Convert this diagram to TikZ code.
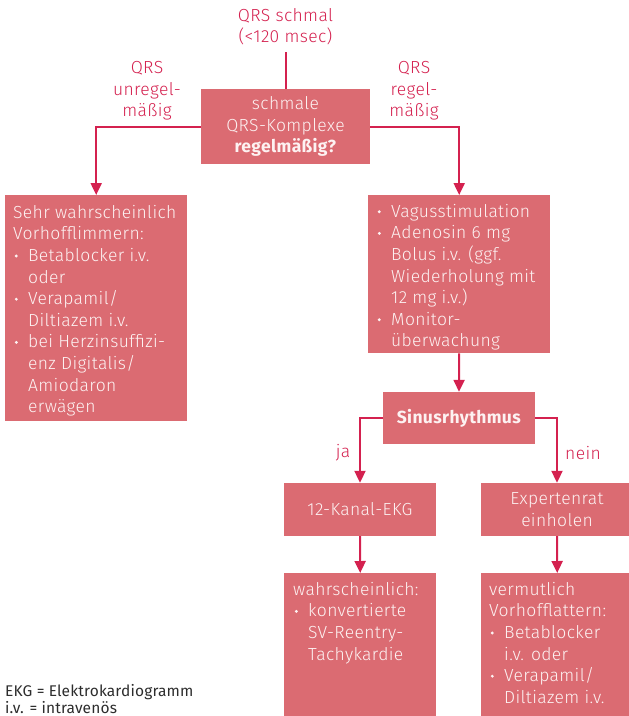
\documentclass[tikz,border=0pt]{standalone}
\usepackage{fontspec}
\setmainfont{Fira Sans}[UprightFont={* Light}, BoldFont={* Bold}, LetterSpace=2]
\newfontfamily\notefont{Fira Sans}[LetterSpace=1]
\usetikzlibrary{arrows.meta,calc}

\definecolor{boxfill}{RGB}{219,107,114}
\definecolor{linkred}{RGB}{212,33,79}
\definecolor{boxtext}{RGB}{253,242,242}
\definecolor{notegray}{RGB}{45,45,45}

% bullet and hanging indent for list lines
\newcommand{\itembul}{\makebox[15pt][l]{\hspace{1.5pt}\tikz[baseline=0pt]\fill (1.6pt,5.6pt) circle (1.6pt);}}
\newcommand{\itemind}{\hspace*{15pt}}

\tikzset{
  basefont/.style={font=\fontsize{17.5}{21.6}\selectfont},
  box/.style={fill=boxfill, draw=none, inner sep=0pt, text=boxtext, basefont, align=center},
  listtext/.style={text=boxtext, basefont, align=left, inner sep=0pt, anchor=north west},
  lbl/.style={text=linkred, basefont, align=center, inner sep=0pt},
  plainlink/.style={draw=linkred, line width=2pt},
  link/.style={plainlink, -{Triangle[length=12pt,width=11pt]}},
}

\begin{document}
\begin{tikzpicture}[x=1pt,y=-1pt]
  \useasboundingbox (0,0) rectangle (629,716);
  \clip (0,0) rectangle (629,716);

  % entry label and question box
  \node[lbl] (entry) at (285.5,26.5) {QRS schmal\\(<120 msec)};
  \coordinate (entryend) at (285.5,52);
  \node[box, minimum width=169pt, minimum height=75pt] (Q) at (285.5,126.5)
    {schmale\\QRS-Komplexe\\\textbf{regelmäßig?}};

  \node[lbl] (unreg) at (147,91) {QRS\\unregel-\\mäßig};
  \node[lbl] (reg) at (414,91) {QRS\\regel-\\mäßig};

  % irregular branch
  \node[box, anchor=north west, minimum width=182pt, minimum height=226pt] (L) at (5,195) {};
  \node[listtext] (Lt) at ($(L.north west)+(8,10)$) {Sehr wahrscheinlich\\
    Vorhofflimmern:\\
    \itembul Betablocker i.v.\\
    \itemind oder\\
    \itembul Verapamil/\\
    \itemind Diltiazem i.v.\\
    \itembul bei Herzinsuffizi-\\
    \itemind enz Digitalis/\\
    \itemind Amiodaron\\
    \itemind erwägen};

  % regular branch
  \node[box, anchor=north west, minimum width=182pt, minimum height=158pt] (R) at (368,195) {};
  \node[listtext] (Rt) at ($(R.north west)+(8,9)$) {\itembul Vagusstimulation\\
    \itembul Adenosin 6 mg\\
    \itemind Bolus i.v. (ggf.\\
    \itemind Wiederholung mit\\
    \itemind 12 mg i.v.)\\
    \itembul Monitor-\\
    \itemind überwachung};

  \node[box, minimum width=152pt, minimum height=52pt] (S) at (459,418) {\textbf{Sinusrhythmus}};

  \node[box, minimum width=152pt, minimum height=53pt] (K) at (360,509.5) {12-Kanal-EKG};
  \node[box, minimum width=152pt, minimum height=53pt] (E) at (557,509.5) {Expertenrat\\einholen};

  \node[box, anchor=north west, minimum width=152pt, minimum height=150pt] (W) at (284,573) {};
  \node[listtext] (Wt) at ($(W.north west)+(9,9)$) {wahrscheinlich:\\
    \itembul konvertierte\\
    \itemind SV-Reentry-\\
    \itemind Tachykardie};

  \node[box, anchor=north west, minimum width=152pt, minimum height=150pt] (V) at (481,573) {};
  \node[listtext] (Vt) at ($(V.north west)+(8,9)$) {vermutlich\\
    Vorhofflattern:\\
    \itembul Betablocker\\
    \itemind i.v. oder\\
    \itembul Verapamil/\\
    \itemind Diltiazem i.v.};

  \node[lbl] (ja) at (343,453) {ja};
  \node[lbl] (nein) at (583,453) {nein};

  % connectors
  \draw[plainlink] (entryend) -- (Q.north);
  \draw[link] (Q.west) -| (L.north);
  \draw[link] (Q.east) -| (R.north);
  \draw[link] (R.south) -- (S.north);
  \draw[link] (S.west) -| (K.north);
  \draw[link] (S.east) -| (E.north);
  \draw[link] (K.south) -- (W.north);
  \draw[link] (E.south) -- (V.north);

  % abbreviations
  \node[text=notegray, font=\notefont\fontsize{15.5}{17}\selectfont, align=left, inner sep=0pt, anchor=north west] (note) at (5,684)
    {EKG = Elektrokardiogramm\\i.v. = intravenös};
\end{tikzpicture}
\end{document}
